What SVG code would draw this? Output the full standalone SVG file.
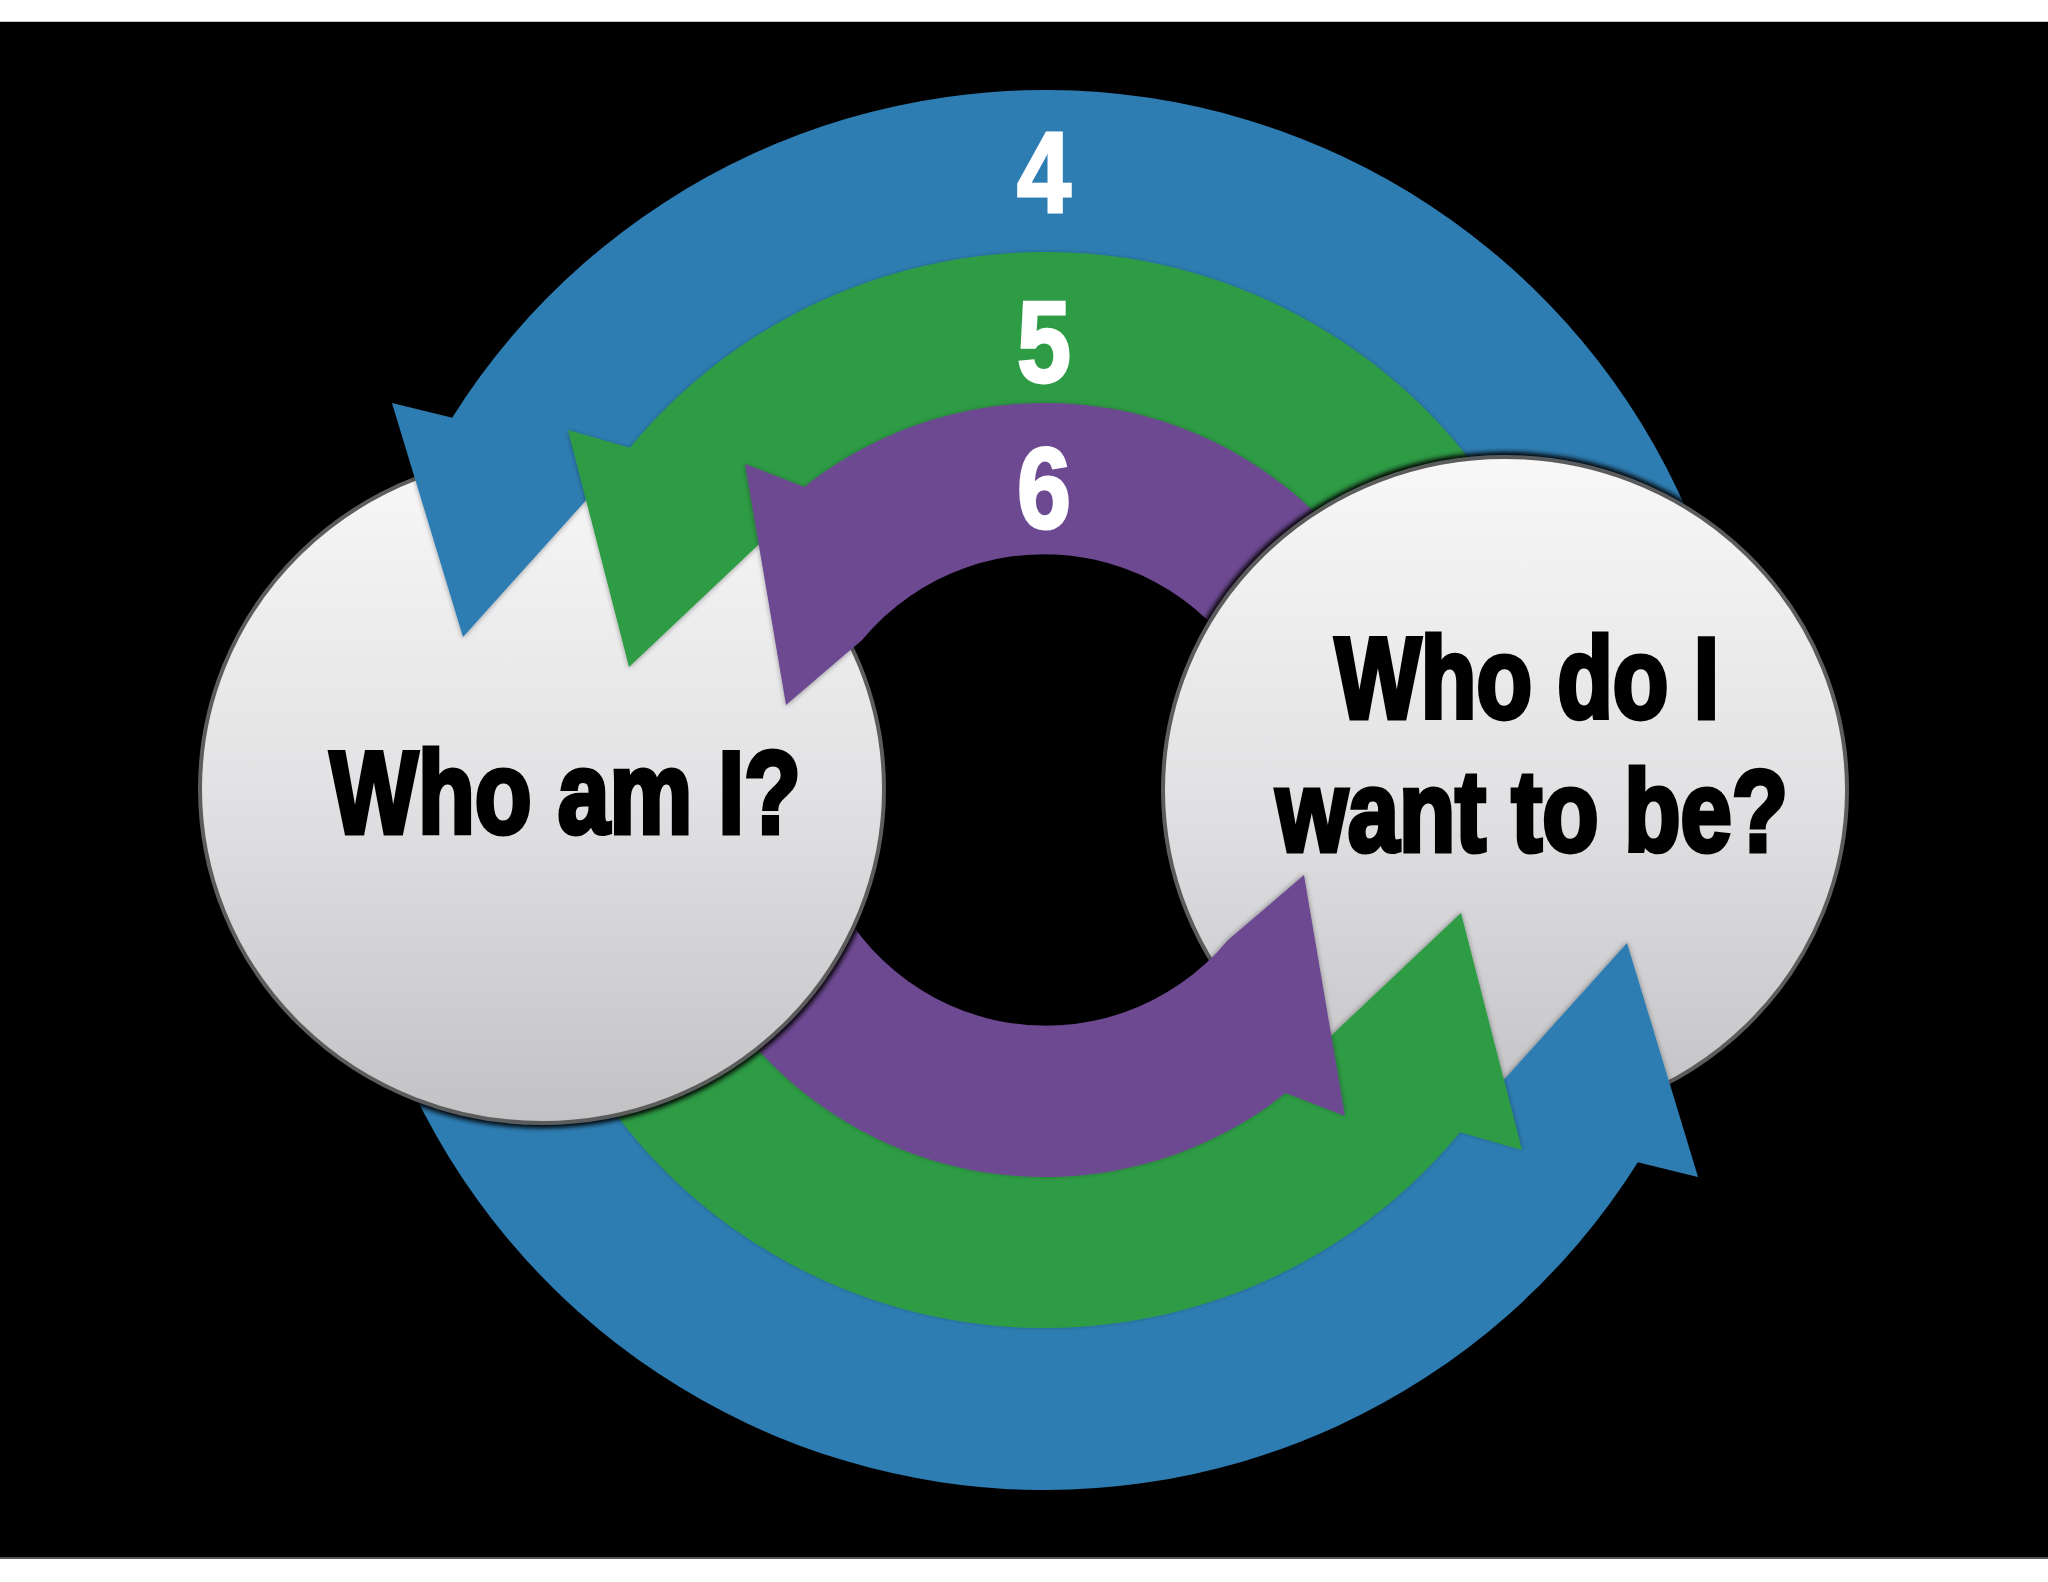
<svg xmlns="http://www.w3.org/2000/svg" width="2048" height="1582" viewBox="0 0 2048 1582">
<defs>
<style>
.blue{fill:#2f7db2}
.green{fill:#2e9b44}
.purple{fill:#6d4a92}
.arrow{filter:url(#shadow)}
.node-shape{fill:url(#circleGrad);stroke:#5c5c5c;stroke-width:4}
.label{font-family:"Liberation Sans",Arial,sans-serif;font-weight:700;fill:#000;stroke:#000;stroke-width:5;stroke-linejoin:miter}
.num{font-family:"Liberation Sans",Arial,sans-serif;font-weight:700;fill:#fff;stroke:#fff;stroke-width:3;font-size:115px;text-anchor:middle}
</style>
<linearGradient id="circleGrad" x1="0" y1="0" x2="0" y2="1">
<stop offset="0" stop-color="#f8f8f9"/>
<stop offset="0.5" stop-color="#e2e1e3"/>
<stop offset="1" stop-color="#c2c1c4"/>
</linearGradient>
<filter id="shadow" x="-10%" y="-10%" width="120%" height="120%">
<feDropShadow dx="0" dy="1" stdDeviation="2.5" flood-color="#000" flood-opacity="0.35"/>
</filter>
<filter id="soft" x="-5%" y="-5%" width="110%" height="110%">
<feGaussianBlur stdDeviation="2.5"/>
</filter>
<mask id="hideUnderRight" maskUnits="userSpaceOnUse" x="0" y="0" width="2048" height="1582">
<rect width="2048" height="1582" fill="#fff"/>
<ellipse cx="1505" cy="790" rx="347" ry="338" fill="#000" filter="url(#soft)"/>
</mask>
<mask id="hideUnderLeft" maskUnits="userSpaceOnUse" x="0" y="0" width="2048" height="1582">
<rect width="2048" height="1582" fill="#fff"/>
<ellipse cx="542" cy="789" rx="347" ry="339" fill="#000" filter="url(#soft)"/>
</mask>
<path id="arrowBlue" d="M 1721.1 608.8 A 700 700 0 0 0 452.2 417.7 L 392 403 L 463 637 L 647.5 432 L 649.7 434.1 A 532 532 0 0 1 1558.9 652.3 Z"/>
<path id="arrowGreen" d="M 1564.7 650.8 A 538 538 0 0 0 629.9 447.8 L 568 430 L 629 667 L 768.5 535.2 A 376 376 0 0 1 1408.2 692.7 Z"/>
<path id="arrowPurple" d="M 1418.8 689.8 A 387 387 0 0 0 804.4 486.9 L 745 464 L 786 705 L 862 640 A 236 236 0 0 1 1272 729.2 Z"/>
</defs>

<rect width="2048" height="1582" fill="#fff"/>
<rect y="22" width="2048" height="1536" fill="#000"/>
<rect y="21" width="2048" height="1" fill="#c8c8c8"/>
<rect y="1557" width="2048" height="2" fill="#555"/>

<g id="node-who-am-i">
<ellipse class="node-shape" cx="542" cy="789" rx="342" ry="334"/>
<text class="label" x="330" y="832.5" font-size="117" textLength="471" lengthAdjust="spacingAndGlyphs">Who am I?</text>
</g>

<g id="node-who-do-i-want-to-be">
<ellipse class="node-shape" cx="1505" cy="790" rx="342" ry="333"/>
<text class="label" x="1335" y="717.5" font-size="114.5" textLength="384" lengthAdjust="spacingAndGlyphs">Who do I</text>
<text class="label" x="1276" y="850.5" font-size="114.5" textLength="512" lengthAdjust="spacingAndGlyphs">want to be?</text>
</g>

<g id="connectors">
<g id="arrows-top" mask="url(#hideUnderRight)">
<use href="#arrowBlue" class="arrow blue"/>
<use href="#arrowGreen" class="arrow green"/>
<use href="#arrowPurple" class="arrow purple"/>
</g>
<g id="arrows-bottom" mask="url(#hideUnderLeft)">
<g transform="rotate(180 1045 790)">
<use href="#arrowBlue" class="arrow blue"/>
<use href="#arrowGreen" class="arrow green"/>
<use href="#arrowPurple" class="arrow purple"/>
</g>
</g>
</g>

<g id="ring-labels">
<text class="num" x="1044" y="211.5" textLength="54" lengthAdjust="spacingAndGlyphs">4</text>
<text class="num" x="1044" y="382" textLength="54" lengthAdjust="spacingAndGlyphs">5</text>
<text class="num" x="1044" y="528" textLength="54" lengthAdjust="spacingAndGlyphs">6</text>
</g>
</svg>
